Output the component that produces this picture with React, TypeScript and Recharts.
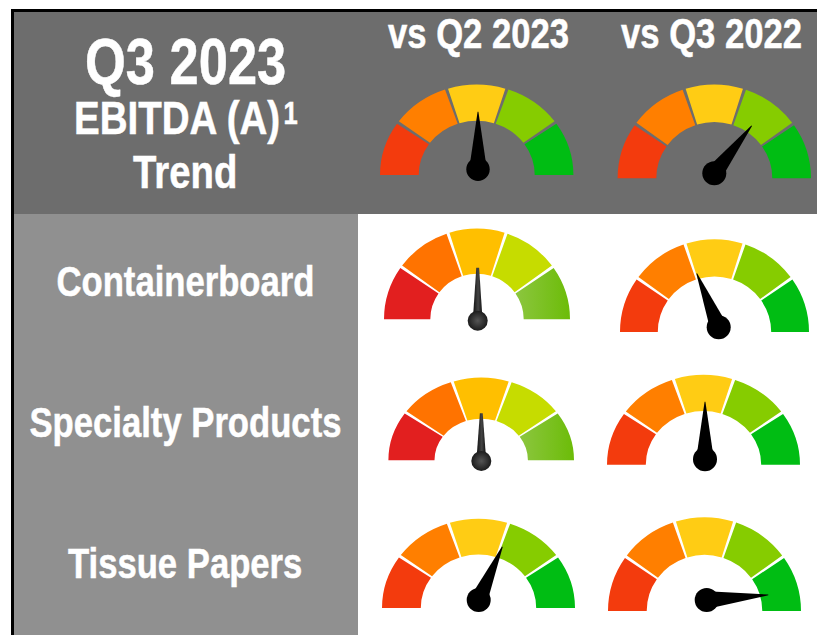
import * as React from "react";
import { PieChart, Pie, Sector } from "recharts";

// one equal share per zone, the dial is split in five
const zoneShares = [20, 20, 20, 20, 20];

// needle readings on a 0-100 dial, left to right
const q2Readings = [50, 50, 50, 63.3];
const q3Readings = [71.2, 37.7, 50, 97.4];

const rowLabels = ["Containerboard", "Specialty Products", "Tissue Papers"];
const columnLabels = ["vs Q2 2023", "vs Q3 2022"];

const vivid = ["#f33b0d", "#ff7f00", "#ffcc14", "#86cc00", "#00bd13"];
const classic = ["#e21f1f", "#ff7300", "#ffbf00", "#c6dc00", "url(#classicGreen)"];

const dials = [
  { key: "top-q2", value: q2Readings[0], cx: 476.7, cy: 175, r: 96.7, inner: 58, k: 0.935, hx: 478, hy: 169.3, hr: 11.7, len: 57.6, colors: vivid },
  { key: "top-q3", value: q3Readings[0], cx: 714.3, cy: 178.3, r: 96.7, inner: 58, k: 0.97, hx: 714.3, hy: 173.3, hr: 12, len: 60.5, colors: vivid },
  { key: "cb-q2", value: q2Readings[1], cx: 477, cy: 319.3, r: 93, inner: 46.7, k: 0.975, hx: 477.7, hy: 320.7, hr: 10, len: 53, colors: classic },
  { key: "cb-q3", value: q3Readings[1], cx: 714.5, cy: 332, r: 94.5, inner: 56.7, k: 0.98, hx: 718.7, hy: 327.3, hr: 12, len: 58.3, colors: vivid },
  { key: "sp-q2", value: q2Readings[2], cx: 481.2, cy: 460.3, r: 92.8, inner: 46.7, k: 0.89, hx: 481.3, hy: 461, hr: 10, len: 47.7, colors: classic },
  { key: "sp-q3", value: q3Readings[2], cx: 703.5, cy: 464.7, r: 96.5, inner: 57.7, k: 0.93, hx: 705, hy: 459.3, hr: 12, len: 57.6, colors: vivid },
  { key: "tp-q2", value: q2Readings[3], cx: 478.5, cy: 608, r: 96.5, inner: 57.7, k: 0.925, hx: 478.7, hy: 600, hr: 12, len: 58.3, colors: vivid },
  { key: "tp-q3", value: q3Readings[3], cx: 704.5, cy: 611, r: 96.5, inner: 57.8, k: 0.97, hx: 706.7, hy: 600, hr: 12, len: 61.8, colors: vivid },
];

const RAD = Math.PI / 180;

// ring slice, squashed a little vertically because the source gauges are not round
function ZoneShape(props: any) {
  const { cx, cy, k, soft } = props;
  return (
    <g
      transform={`translate(${cx} ${cy}) scale(1 ${k}) translate(${-cx} ${-cy})`}
      style={soft ? { filter: "blur(0.5px)" } : undefined}
    >
      <Sector {...props} stroke="none" />
    </g>
  );
}

// the needle sits at the far edge of the "reading" slice
function NeedleShape(props: any) {
  const { cx, cy, endAngle, part, len, hubR, isClassic } = props;
  if (part !== "reading") return <g />;
  const a = endAngle * RAD;
  const ux = Math.cos(a);
  const uy = -Math.sin(a);
  const halfBase = isClassic ? 4.5 : 8;
  const halfTip = isClassic ? 1.4 : 0.4;
  const baseX = cx + ux * 6;
  const baseY = cy + uy * 6;
  const tipX = cx + ux * len;
  const tipY = cy + uy * len;
  const pts = [
    [baseX - uy * halfBase, baseY + ux * halfBase],
    [tipX - uy * halfTip, tipY + ux * halfTip],
    [tipX + uy * halfTip, tipY - ux * halfTip],
    [baseX + uy * halfBase, baseY - ux * halfBase],
  ];
  return (
    <g style={isClassic ? { filter: "blur(0.4px)" } : undefined}>
      <polygon points={pts.map((p) => p.join(",")).join(" ")} fill={isClassic ? "url(#classicNeedle)" : "#000"} />
      <circle cx={cx} cy={cy} r={hubR} fill={isClassic ? "url(#classicHub)" : "#000"} />
    </g>
  );
}

// the source font is Arial Narrow Bold, so squeeze the Arial-metric Liberation Sans Bold
function Label({ x, y, size, sx = 0.825, children }: { x: number; y: number; size: number; sx?: number; children: string }) {
  return (
    <text
      transform={`translate(${x} ${y}) scale(${sx} 1)`}
      fontFamily="'Liberation Sans', Arial, sans-serif"
      fontWeight={700}
      fontSize={size}
      fill="#fff"
      stroke="#fff"
      strokeWidth={0.5}
    >
      {children}
    </text>
  );
}

export default function App() {
  return (
    <div style={{ position: "absolute", left: 0, top: 0, width: 817, height: 635, overflow: "hidden", background: "#fff" }}>
      <div style={{ position: "absolute", left: 11, top: 9, width: 806, height: 3, background: "#000" }} />
      <div style={{ position: "absolute", left: 11, top: 9, width: 3, height: 626, background: "#000" }} />
      <div style={{ position: "absolute", left: 14, top: 12, width: 803, height: 202, background: "#6d6d6d" }} />
      <div style={{ position: "absolute", left: 14, top: 214, width: 344, height: 421, background: "#909090" }} />
      <div style={{ position: "absolute", left: 0, top: 0 }}>
        <PieChart width={817} height={635} margin={{ top: 0, right: 0, bottom: 0, left: 0 }} style={{ background: "transparent" }}>
          <defs>
            <linearGradient id="classicGreen" x1="0" y1="0" x2="1" y2="0">
              <stop offset="0%" stopColor="#8cc63f" />
              <stop offset="100%" stopColor="#6cbc08" />
            </linearGradient>
            <linearGradient id="classicNeedle" x1="0" y1="0" x2="1" y2="0">
              <stop offset="0%" stopColor="#111" />
              <stop offset="55%" stopColor="#444" />
              <stop offset="100%" stopColor="#111" />
            </linearGradient>
            <radialGradient id="classicHub">
              <stop offset="0%" stopColor="#555" />
              <stop offset="100%" stopColor="#1c1c1c" />
            </radialGradient>
          </defs>
          {dials.map((d) => (
            <Pie
              key={d.key}
              data={zoneShares.map((share, i) => ({
                name: `zone${i}`,
                value: share,
                fill: d.colors[i],
                k: d.k,
                soft: d.colors === classic,
              }))}
              dataKey="value"
              cx={d.cx}
              cy={d.cy}
              innerRadius={d.inner}
              outerRadius={d.r}
              startAngle={180}
              endAngle={0}
              paddingAngle={1.9}
              stroke="none"
              shape={ZoneShape}
              isAnimationActive={false}
            />
          ))}
          {dials.map((d) => (
            <Pie
              key={d.key + "-needle"}
              data={[
                { part: "reading", value: d.value, len: d.len, hubR: d.hr, isClassic: d.colors === classic },
                { part: "rest", value: 100 - d.value },
              ]}
              dataKey="value"
              cx={d.hx}
              cy={d.hy}
              innerRadius={0}
              outerRadius={d.hr}
              startAngle={180}
              endAngle={0}
              fill="none"
              stroke="none"
              shape={NeedleShape}
              isAnimationActive={false}
            />
          ))}
          <Label x={85} y={83.5} size={64} sx={0.82}>Q3 2023</Label>
          <Label x={74} y={134} size={45.6} sx={0.845}>EBITDA (A)</Label>
          <Label x={283.5} y={124} size={31}>1</Label>
          <Label x={133} y={187.7} size={45.6} sx={0.84}>Trend</Label>
          <Label x={388} y={48.3} size={42}>{columnLabels[0]}</Label>
          <Label x={621} y={48.3} size={42}>{columnLabels[1]}</Label>
          <Label x={56.5} y={295.7} size={42}>{rowLabels[0]}</Label>
          <Label x={29.5} y={436.7} size={42}>{rowLabels[1]}</Label>
          <Label x={68} y={577.7} size={42}>{rowLabels[2]}</Label>
        </PieChart>
      </div>
    </div>
  );
}
